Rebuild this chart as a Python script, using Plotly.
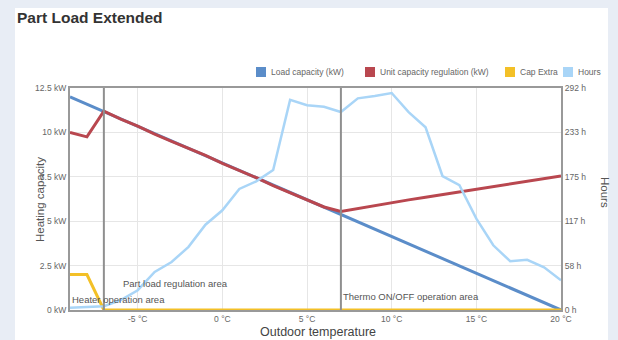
import plotly.graph_objects as go

# ---- data ----
load_temps = [-9, 20]
load_kw = [12.0, 0.0]

temps = list(range(-9, 21))
unit_kw = [10.0, 9.75, 11.2, 10.75, 10.35, 9.9, 9.5, 9.1, 8.7, 8.25, 7.85, 7.45, 7.0, 6.6, 6.2,
           5.8, 5.55, 5.72, 5.88, 6.04, 6.2, 6.35, 6.5, 6.66, 6.82, 6.97, 7.12, 7.27, 7.42, 7.55]

cap_temps = [-9, -8, -7, 20]
cap_kw = [2.0, 2.0, 0.0, 0.0]

hours = [3, 4, 5, 13, 26, 50, 63, 83, 112, 131, 159, 169, 184, 276, 269, 267, 260, 278, 281,
         285, 260, 240, 176, 164, 120, 85, 64, 66, 56, 39]

area_bounds = [-7, 7]
area_labels = ["Heater operation area", "Part load regulation area", "Thermo ON/OFF operation area"]
area_label_x = [-9, -6, 7]
area_label_y = [0.6, 1.5, 0.75]

x_ticks = [-5, 0, 5, 10, 15, 20]
x_ticktext = ["-5 °C", "0 °C", "5 °C", "10 °C", "15 °C", "20 °C"]
y_ticks = [0, 2.5, 5, 7.5, 10, 12.5]
y_ticktext = ["0 kW", "2.5 kW", "5 kW", "7.5 kW", "10 kW", "12.5 kW"]
h_max = 291.6
h_ticks = [0, 58.32, 116.64, 174.96, 233.28, 291.6]
h_ticktext = ["0 h", "58 h", "117 h", "175 h", "233 h", "292 h"]

series_names = ["Load capacity (kW)", "Unit capacity regulation (kW)", "Cap Extra", "Hours"]
colors = ["#5b8dc9", "#b9474f", "#f3c027", "#a9d5f7"]

# ---- layout geometry (pixels) ----
W, H = 618, 340
PL, PR, PT, PB = 70, 561, 88, 310
legend_px = [256, 365, 505, 563]
legend_py = 72


def px(x):
    return (x - PL) / (PR - PL)


def py(y):
    return (PB - y) / (PB - PT)


FONT = "Liberation Sans"

# ---- figure ----
fig = go.Figure()
fig.add_trace(go.Scatter(x=temps, y=hours, yaxis="y2", mode="lines",
                         line=dict(color=colors[3], width=2.5), showlegend=False))
fig.add_trace(go.Scatter(x=load_temps, y=load_kw, mode="lines",
                         line=dict(color=colors[0], width=3), showlegend=False))
fig.add_trace(go.Scatter(x=temps, y=unit_kw, mode="lines",
                         line=dict(color=colors[1], width=3), showlegend=False))
fig.add_trace(go.Scatter(x=cap_temps, y=cap_kw, mode="lines",
                         line=dict(color=colors[2], width=3), showlegend=False))

shapes = [dict(type="rect", xref="paper", yref="paper", x0=px(15), x1=px(608), y0=py(H + 5),
               y1=py(8), fillcolor="white", line=dict(width=0), layer="below")]
for b in area_bounds:
    shapes.append(dict(type="line", xref="x", yref="paper", x0=b, x1=b, y0=0, y1=1,
                       line=dict(color="#8f8f8f", width=2)))

annotations = []
for name, c, lx in zip(series_names, colors, legend_px):
    shapes.append(dict(type="rect", xref="paper", yref="paper", x0=px(lx), x1=px(lx + 10),
                       y0=py(legend_py + 5), y1=py(legend_py - 5), fillcolor=c,
                       line=dict(width=0)))
    annotations.append(dict(x=px(lx + 13), y=py(legend_py), xref="paper", yref="paper",
                            text=name, showarrow=False, xanchor="left", yanchor="middle",
                            font=dict(size=8.5, color="#666", family=FONT)))

for t, lx, ly in zip(area_labels, area_label_x, area_label_y):
    annotations.append(dict(x=lx, y=ly, xref="x", yref="y", text=t, showarrow=False,
                            xanchor="left", yanchor="middle",
                            font=dict(size=9.5, color="#555", family=FONT)))
annotations += [
    dict(x=px(15), y=py(18), xref="paper", yref="paper", text="<b>Part Load Extended</b>",
         showarrow=False, xanchor="left", yanchor="middle",
         font=dict(size=15.5, color="#333", family=FONT)),
    dict(x=px(40), y=py(200), xref="paper", yref="paper", text="Heating capacity", textangle=-90,
         showarrow=False, xanchor="center", yanchor="middle",
         font=dict(size=11.5, color="#555", family=FONT)),
    dict(x=px(605), y=py(192), xref="paper", yref="paper", text="Hours", textangle=90,
         showarrow=False, xanchor="center", yanchor="middle",
         font=dict(size=11.5, color="#555", family=FONT)),
    dict(x=px(318), y=py(332), xref="paper", yref="paper", text="Outdoor temperature",
         showarrow=False, xanchor="center", yanchor="middle",
         font=dict(size=12.5, color="#444", family=FONT)),
]

axis_common = dict(showline=True, linecolor="#999", linewidth=2, gridcolor="#e6e6e6",
                   gridwidth=1, zeroline=False, ticks="",
                   tickfont=dict(size=8.5, color="#666", family=FONT))

fig.update_layout(
    width=W, height=H,
    margin=dict(l=PL, r=W - PR, t=PT, b=H - PB, autoexpand=False),
    paper_bgcolor="#e8edf5", plot_bgcolor="white",
    shapes=shapes, annotations=annotations,
    xaxis=dict(range=[-9, 20], tickvals=x_ticks, ticktext=x_ticktext, mirror=True, **axis_common),
    yaxis=dict(range=[0, 12.5], tickvals=y_ticks, ticktext=y_ticktext, mirror=True, **axis_common),
    yaxis2=dict(range=[0, h_max], tickvals=h_ticks, ticktext=h_ticktext, overlaying="y",
                side="right", showgrid=False, showline=True, linecolor="#999", linewidth=2,
                zeroline=False, ticks="",
                tickfont=dict(size=8.5, color="#666", family=FONT)),
    showlegend=False,
)

fig.write_html("out.html", config={"displayModeBar": False},
               post_script="document.body.style.margin='0';document.body.style.padding='0';")
